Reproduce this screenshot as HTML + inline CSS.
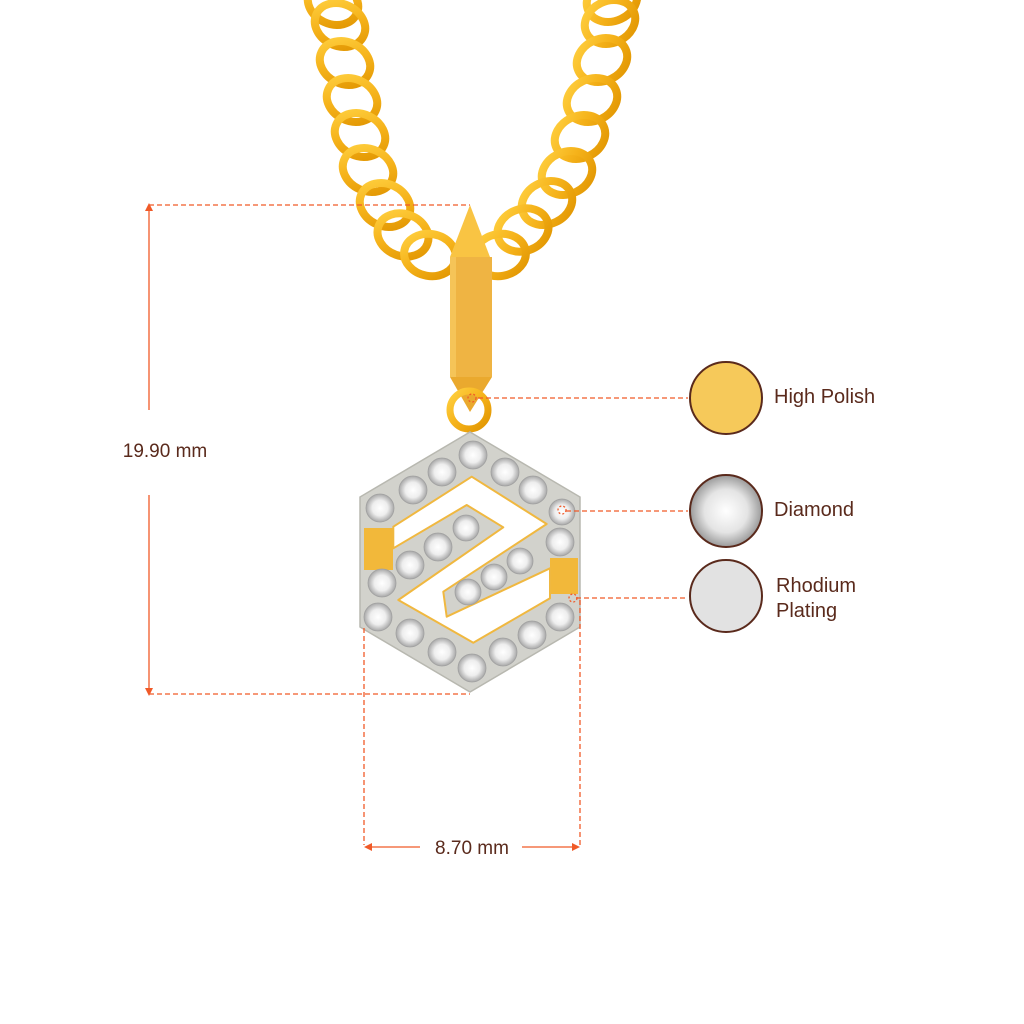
<!DOCTYPE html>
<html><head><meta charset="utf-8"><style>
html,body{margin:0;padding:0;background:#fff;width:1024px;height:1024px;overflow:hidden}
text{font-family:"Liberation Sans",sans-serif;fill:#5a2a1c}
</style></head><body>
<svg width="1024" height="1024" viewBox="0 0 1024 1024" xmlns="http://www.w3.org/2000/svg">
<defs>
<linearGradient id="g" x1="0" y1="0" x2="1" y2="1"><stop offset="0" stop-color="#ffd040"/><stop offset="0.5" stop-color="#f5b21a"/><stop offset="1" stop-color="#e09400"/></linearGradient>
<radialGradient id="dia"><stop offset="0" stop-color="#ffffff"/><stop offset="0.55" stop-color="#eeeeee"/><stop offset="1" stop-color="#a8a8a8"/></radialGradient>
<radialGradient id="dia2"><stop offset="0" stop-color="#fff"/><stop offset="0.6" stop-color="#e4e4e4"/><stop offset="1" stop-color="#9a9a9a"/></radialGradient>
<g id="link"><ellipse cx="0" cy="0" rx="26" ry="21" fill="none" stroke="url(#g)" stroke-width="8"/></g>
</defs>
<g>
<use href="#link" transform="translate(333,3) rotate(25)"/>
<use href="#link" transform="translate(340,25) rotate(25)"/>
<use href="#link" transform="translate(345,63) rotate(25)"/>
<use href="#link" transform="translate(352,100) rotate(25)"/>
<use href="#link" transform="translate(360,135) rotate(25)"/>
<use href="#link" transform="translate(368,170) rotate(25)"/>
<use href="#link" transform="translate(385,205) rotate(25)"/>
<use href="#link" transform="translate(403,235) rotate(20)"/>
<use href="#link" transform="translate(430,255) rotate(10)"/>
<use href="#link" transform="translate(612,0) rotate(-25)"/>
<use href="#link" transform="translate(610,22) rotate(-25)"/>
<use href="#link" transform="translate(602,60) rotate(-25)"/>
<use href="#link" transform="translate(592,100) rotate(-25)"/>
<use href="#link" transform="translate(580,137) rotate(-25)"/>
<use href="#link" transform="translate(567,173) rotate(-25)"/>
<use href="#link" transform="translate(547,203) rotate(-25)"/>
<use href="#link" transform="translate(523,230) rotate(-20)"/>
<use href="#link" transform="translate(500,255) rotate(-10)"/>
</g>
<!-- bail -->
<polygon points="470,205 490,257 450,257" fill="#f9c443"/>
<rect x="450" y="257" width="42" height="120" fill="#efb443"/>
<rect x="450" y="257" width="6" height="120" fill="#f5c458"/>
<polygon points="450,377 492,377 470,412" fill="#eaa92e"/>
<circle cx="469" cy="410" r="19" fill="none" stroke="url(#g)" stroke-width="7"/>
<!-- hexagon -->
<polygon points="470,432 580,497 580,627 470,692 360,627 360,497" fill="#d2d2cc" stroke="#b8b8b0" stroke-width="1.5"/>
<rect x="364" y="528" width="29" height="42" fill="#f2b83a"/>
<rect x="550" y="558" width="28" height="36" fill="#f2b83a"/>
<polygon points="393.3,526.7 471.7,476.7 546.7,524 443.3,591.7 446.7,616.7 550,568.3 550,598.3 473.3,642.7 398.3,600 503.3,527.3 466.7,505 393.3,548.3" fill="#fff" stroke="#f0b840" stroke-width="2" stroke-linejoin="round"/>
<g fill="url(#dia)" stroke="#a0a0a0" stroke-width="0.8">
<circle cx="380" cy="508" r="14"/><circle cx="413" cy="490" r="14"/><circle cx="442" cy="472" r="14"/><circle cx="473" cy="455" r="14"/><circle cx="505" cy="472" r="14"/><circle cx="533" cy="490" r="14"/><circle cx="562" cy="512" r="13"/>
<circle cx="382" cy="583" r="14"/><circle cx="410" cy="565" r="14"/><circle cx="438" cy="547" r="14"/><circle cx="466" cy="528" r="13"/>
<circle cx="468" cy="592" r="13"/><circle cx="494" cy="577" r="13"/><circle cx="520" cy="561" r="13"/><circle cx="560" cy="542" r="14"/>
<circle cx="378" cy="617" r="14"/><circle cx="410" cy="633" r="14"/><circle cx="442" cy="652" r="14"/><circle cx="472" cy="668" r="14"/><circle cx="503" cy="652" r="14"/><circle cx="532" cy="635" r="14"/><circle cx="560" cy="617" r="14"/>
</g>
<!-- dimension lines -->
<g stroke="#f05a28" stroke-width="1.3" fill="none">
<line x1="149" y1="205" x2="470" y2="205" stroke-dasharray="5,3"/>
<line x1="149" y1="694" x2="470" y2="694" stroke-dasharray="5,3"/>
<line x1="149" y1="207" x2="149" y2="410"/>
<line x1="149" y1="495" x2="149" y2="692"/>
<line x1="364" y1="628" x2="364" y2="845" stroke-dasharray="5,3"/>
<line x1="580" y1="600" x2="580" y2="845" stroke-dasharray="5,3"/>
<line x1="366" y1="847" x2="420" y2="847"/>
<line x1="522" y1="847" x2="578" y2="847"/>
<line x1="478" y1="398" x2="688" y2="398" stroke-dasharray="5,3"/>
<line x1="566" y1="511" x2="688" y2="511" stroke-dasharray="5,3"/>
<line x1="576" y1="598" x2="688" y2="598" stroke-dasharray="5,3"/>
<circle cx="472" cy="398" r="4" stroke-dasharray="2,2"/>
<circle cx="562" cy="510" r="4" stroke-dasharray="2,2"/>
<circle cx="573" cy="598" r="4" stroke-dasharray="2,2"/>
</g>
<g fill="#f05a28">
<polygon points="149,203 145,211 153,211"/><polygon points="149,696 145,688 153,688"/>
<polygon points="364,847 372,843 372,851"/><polygon points="580,847 572,843 572,851"/>
</g>
<text x="165" y="457" font-size="19" text-anchor="middle">19.90 mm</text>
<text x="472" y="854" font-size="19" text-anchor="middle">8.70 mm</text>
<!-- legend -->
<circle cx="726" cy="398" r="36" fill="#f6c95a" stroke="#5a2a1c" stroke-width="2"/>
<circle cx="726" cy="511" r="36" fill="url(#dia2)" stroke="#5a2a1c" stroke-width="2"/>
<circle cx="726" cy="596" r="36" fill="#e2e2e2" stroke="#5a2a1c" stroke-width="2"/>
<text x="774" y="403" font-size="20">High Polish</text>
<text x="774" y="516" font-size="20">Diamond</text>
<text x="776" y="592" font-size="20">Rhodium</text>
<text x="776" y="617" font-size="20">Plating</text>
</svg>
</body></html>
